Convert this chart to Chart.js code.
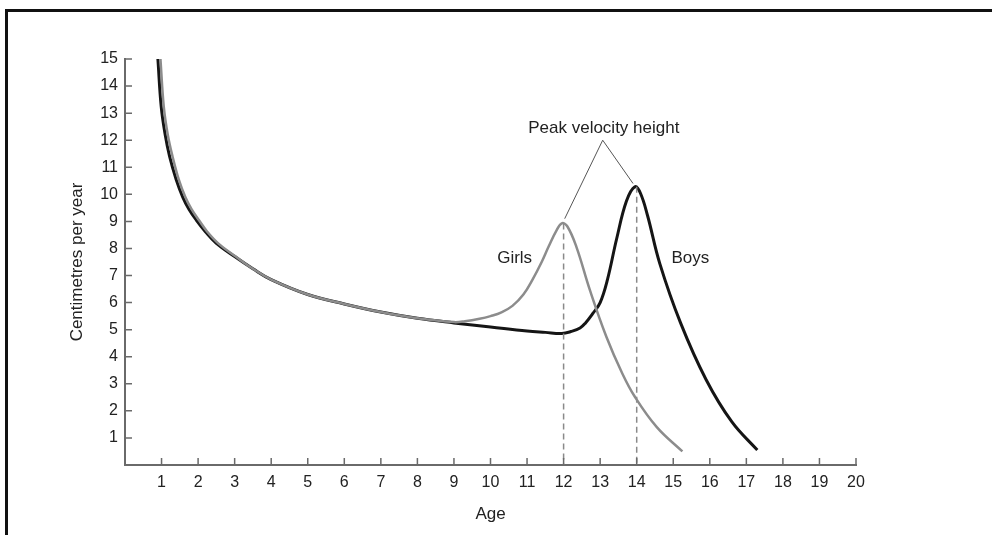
<!DOCTYPE html>
<html>
<head>
<meta charset="utf-8">
<script src="https://cdn.jsdelivr.net/npm/chart.js@4/dist/chart.umd.min.js"></script>
<style>
  html, body { margin: 0; padding: 0; background: #fff; }
  #wrap { position: relative; width: 992px; height: 535px; overflow: hidden; }
  #frame { position: absolute; left: 5px; top: 9px; width: 990px; height: 530px;
           border-top: 3px solid #111; border-left: 3px solid #111; }
  canvas { position: absolute; left: 0; top: 0; }
</style>
</head>
<body>
<div id="wrap">
  <canvas id="growth" width="992" height="535"></canvas>
  <div id="frame"></div>
</div>
<script>
// growth velocity (age in years, cm per year)
const boysAge  = [0.9, 0.99, 1.1, 1.22, 1.4, 1.58, 1.75, 1.95, 2.2, 2.5, 3, 3.5, 4, 5, 6, 7, 8, 9, 10, 11, 11.5, 11.95, 12.2, 12.45, 12.6, 12.8, 13.0, 13.2, 13.45, 13.72, 13.95, 14.1, 14.3, 14.63, 15.2, 15.9, 16.6, 17.3];
const boysRate = [15, 13.25, 12.2, 11.4, 10.55, 9.9, 9.45, 9.05, 8.62, 8.19, 7.7, 7.25, 6.85, 6.3, 5.95, 5.65, 5.42, 5.25, 5.1, 4.95, 4.9, 4.86, 4.93, 5.06, 5.25, 5.6, 6.0, 6.85, 8.35, 9.75, 10.28, 10.05, 9.2, 7.45, 5.25, 3.15, 1.6, 0.55];

const girlsAge  = [0.97, 1.06, 1.17, 1.3, 1.47, 1.65, 1.82, 2.02, 2.25, 2.55, 3.03, 3.5, 4, 5, 6, 7, 8, 9, 9.3, 9.7, 10.0, 10.3, 10.6, 10.9, 11.15, 11.4, 11.6, 11.8, 11.95, 12.1, 12.35, 12.72, 13.17, 13.6, 13.95, 14.55, 15.25];
const girlsRate = [15, 13.25, 12.2, 11.4, 10.55, 9.9, 9.45, 9.05, 8.62, 8.19, 7.7, 7.25, 6.85, 6.3, 5.95, 5.65, 5.42, 5.28, 5.31, 5.4, 5.5, 5.64, 5.88, 6.3, 6.85, 7.5, 8.1, 8.65, 8.93, 8.82, 8.06, 6.46, 4.74, 3.4, 2.52, 1.4, 0.5];

// peak markers and the "Peak velocity height" pointer
const peakAges  = [12, 14];
const peakRates = [8.92, 10.28];
const pointerAge  = [12.03, 13.07, 13.9];
const pointerRate = [9.1, 12.0, 10.4];

const xMax = 20;
const yMax = 15;

const zip = (xs, ys) => xs.map((x, i) => ({ x: x, y: ys[i] }));

const textColor = '#222';
const axisColor = '#6a6a6a';
const fontFamily = '"Liberation Sans", Arial, Helvetica, sans-serif';

// ticks point inwards on this chart, so draw them ourselves from the scales
const innerTicks = {
  id: 'innerTicks',
  afterDraw(chart) {
    const { ctx, scales: { x, y } } = chart;
    ctx.save();
    ctx.strokeStyle = axisColor;
    ctx.lineWidth = 1.5;
    ctx.beginPath();
    for (let v = 1; v <= xMax; v++) {
      const px = x.getPixelForValue(v);
      ctx.moveTo(px, y.bottom);
      ctx.lineTo(px, y.bottom - 7);
    }
    for (let v = 1; v <= yMax; v++) {
      const py = y.getPixelForValue(v);
      ctx.moveTo(x.left, py);
      ctx.lineTo(x.left + 7, py);
    }
    ctx.stroke();
    ctx.restore();
  }
};

// text labels placed in data space
const notes = [
  { text: 'Peak velocity height', age: 13.1, rate: 12.45 },
  { text: 'Girls', age: 10.66, rate: 7.65 },
  { text: 'Boys', age: 15.47, rate: 7.65 }
];

const noteLabels = {
  id: 'noteLabels',
  afterDatasetsDraw(chart) {
    const { ctx, scales: { x, y } } = chart;
    ctx.save();
    ctx.fillStyle = textColor;
    ctx.font = '17px ' + fontFamily;
    ctx.textAlign = 'center';
    ctx.textBaseline = 'middle';
    notes.forEach(n => ctx.fillText(n.text, x.getPixelForValue(n.age), y.getPixelForValue(n.rate)));
    ctx.restore();
  }
};

new Chart(document.getElementById('growth'), {
  type: 'line',
  data: {
    datasets: [
      {
        label: 'Girls peak',
        data: [{ x: peakAges[0], y: peakRates[0] }, { x: peakAges[0], y: 0 }],
        borderColor: '#8a8a8a', borderWidth: 1.5, borderDash: [6, 4], tension: 0, pointRadius: 0
      },
      {
        label: 'Boys peak',
        data: [{ x: peakAges[1], y: peakRates[1] }, { x: peakAges[1], y: 0 }],
        borderColor: '#8a8a8a', borderWidth: 1.5, borderDash: [6, 4], tension: 0, pointRadius: 0
      },
      {
        label: 'Pointer',
        data: zip(pointerAge, pointerRate),
        borderColor: '#555', borderWidth: 1, tension: 0, pointRadius: 0
      },
      {
        label: 'Girls',
        data: zip(girlsAge, girlsRate),
        borderColor: '#8c8c8c', borderWidth: 2.5, tension: 0.4, pointRadius: 0, clip: false
      },
      {
        label: 'Boys',
        data: zip(boysAge, boysRate),
        borderColor: '#151515', borderWidth: 3, tension: 0.4, pointRadius: 0, clip: false
      }
    ]
  },
  options: {
    responsive: false,
    animation: false,
    devicePixelRatio: 1,
    layout: { padding: { top: 59, right: 136, left: 0, bottom: 0 } },
    plugins: {
      legend: { display: false },
      tooltip: { enabled: false }
    },
    scales: {
      x: {
        type: 'linear',
        min: 0,
        max: xMax,
        afterFit: (scale) => { scale.height = 70; },
        grid: { display: false, drawTicks: false, tickLength: 0 },
        border: { display: true, color: axisColor, width: 2 },
        ticks: {
          stepSize: 1,
          padding: 8,
          color: textColor,
          font: { family: fontFamily, size: 16 },
          callback: (v) => (v === 0 ? '' : v)
        },
        title: {
          display: true,
          text: 'Age',
          color: textColor,
          font: { family: fontFamily, size: 17 },
          padding: { top: 0, bottom: 10 }
        }
      },
      y: {
        min: 0,
        max: yMax,
        afterFit: (scale) => { scale.width = 125; },
        grid: { display: false, drawTicks: false, tickLength: 0 },
        border: { display: true, color: axisColor, width: 2 },
        ticks: {
          stepSize: 1,
          padding: 7,
          color: textColor,
          font: { family: fontFamily, size: 16 },
          callback: (v) => (v === 0 ? '' : v)
        },
        title: {
          display: true,
          text: 'Centimetres per year',
          color: textColor,
          font: { family: fontFamily, size: 17 },
          padding: { top: 67, bottom: 0 }
        }
      }
    }
  },
  plugins: [innerTicks, noteLabels]
});
</script>
</body>
</html>
